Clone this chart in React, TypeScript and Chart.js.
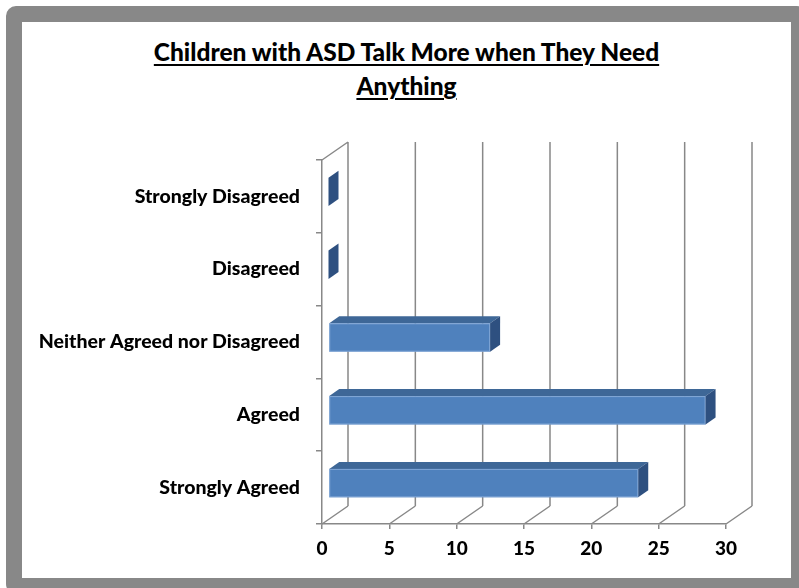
import React, { useEffect, useRef } from "react";
import { Chart, registerables } from "chart.js";

Chart.register(...registerables);

// Survey responses (number of respondents per answer)
const categories = [
  "Strongly Disagreed",
  "Disagreed",
  "Neither Agreed nor Disagreed",
  "Agreed",
  "Strongly Agreed",
];
const responses = [0, 0, 12, 28, 23];
const valueTicks = [0, 5, 10, 15, 20, 25, 30];
const titleLines = ["Children with ASD Talk More when They Need", "Anything"];

// 3D look: depth of the plot box and of each bar
const DEPTH_X = 26;
const DEPTH_Y = 18;
const BAR_DEPTH_X = 10;
const BAR_DEPTH_Y = 7;
const BAR_PLANE = 0.25; // where the bar's front face sits inside the box depth

const GRID = "#888888";
const FRONT = "#4F81BD";
const TOP = "#3E6797";
const SIDE = "#2E5080";

const FONT = "Lato, 'Open Sans', sans-serif";

const box3d = {
  id: "box3d",
  beforeDatasetsDraw(chart: any) {
    const { ctx, chartArea } = chart;
    const x = chart.scales.x;
    ctx.save();
    ctx.strokeStyle = GRID;
    ctx.lineWidth = 1.5;
    ctx.beginPath();
    // back wall grid lines and floor diagonals at each value tick
    valueTicks.forEach((v) => {
      const px = x.getPixelForValue(v);
      ctx.moveTo(px + DEPTH_X, chartArea.top - DEPTH_Y);
      ctx.lineTo(px + DEPTH_X, chartArea.bottom - DEPTH_Y);
      ctx.moveTo(px, chartArea.bottom);
      ctx.lineTo(px + DEPTH_X, chartArea.bottom - DEPTH_Y);
    });
    // top edge of the side wall
    ctx.moveTo(chartArea.left, chartArea.top);
    ctx.lineTo(chartArea.left + DEPTH_X, chartArea.top - DEPTH_Y);
    ctx.stroke();
    ctx.restore();
  },
  afterDatasetsDraw(chart: any) {
    const { ctx } = chart;
    const meta = chart.getDatasetMeta(0);
    const ox = DEPTH_X * BAR_PLANE;
    const oy = -DEPTH_Y * BAR_PLANE;
    ctx.save();
    meta.data.forEach((bar: any) => {
      const p = bar.getProps(["x", "y", "base", "height"], true);
      const x0 = p.base + ox;
      const x1 = p.x + ox;
      const yT = p.y - p.height / 2 + oy;
      const yB = p.y + p.height / 2 + oy;
      if (x1 > x0) {
        // top face
        ctx.fillStyle = TOP;
        ctx.beginPath();
        ctx.moveTo(x0, yT);
        ctx.lineTo(x0 + BAR_DEPTH_X, yT - BAR_DEPTH_Y);
        ctx.lineTo(x1 + BAR_DEPTH_X, yT - BAR_DEPTH_Y);
        ctx.lineTo(x1, yT);
        ctx.closePath();
        ctx.fill();
        // front face
        ctx.fillStyle = FRONT;
        ctx.fillRect(x0, yT, x1 - x0, yB - yT);
        ctx.strokeStyle = "rgba(140,175,220,0.8)";
        ctx.lineWidth = 1;
        ctx.strokeRect(x0 + 0.5, yT + 0.5, x1 - x0 - 1, yB - yT - 1);
      }
      // end face
      ctx.fillStyle = SIDE;
      ctx.beginPath();
      ctx.moveTo(x1, yT);
      ctx.lineTo(x1 + BAR_DEPTH_X, yT - BAR_DEPTH_Y);
      ctx.lineTo(x1 + BAR_DEPTH_X, yB - BAR_DEPTH_Y);
      ctx.lineTo(x1, yB);
      ctx.closePath();
      ctx.fill();
    });
    ctx.restore();
  },
};

export default function App() {
  const ref = useRef<HTMLCanvasElement | null>(null);

  useEffect(() => {
    if (!ref.current) return;
    const chart = new Chart(ref.current, {
      type: "bar",
      data: {
        labels: categories,
        datasets: [
          {
            data: responses,
            backgroundColor: "rgba(0,0,0,0)",
            borderWidth: 0,
            categoryPercentage: 1,
            barPercentage: 0.39,
          },
        ],
      },
      options: {
        indexAxis: "y",
        animation: false,
        responsive: false,
        maintainAspectRatio: false,
        layout: { padding: { top: 160, left: 0, right: 73, bottom: 0 } },
        plugins: {
          legend: { display: false },
          tooltip: { enabled: false },
          title: { display: false },
        },
        scales: {
          x: {
            min: 0,
            max: 30,
            afterBuildTicks: (s: any) => {
              s.ticks = valueTicks.map((v) => ({ value: v }));
            },
            afterFit: (s: any) => {
              s.height = 64;
            },
            grid: {
              drawOnChartArea: false,
              drawTicks: true,
              tickLength: 5,
              color: GRID,
              lineWidth: 1.5,
            },
            border: { display: true, color: GRID, width: 1.5 },
            ticks: {
              color: "#000",
              padding: 8,
              font: { family: FONT, size: 19, weight: "900" },
            },
          },
          y: {
            afterFit: (s: any) => {
              s.width = 322;
            },
            grid: {
              offset: true,
              drawOnChartArea: false,
              drawTicks: true,
              tickLength: 6,
              color: GRID,
              lineWidth: 1.5,
            },
            border: { display: true, color: GRID, width: 1.5 },
            ticks: {
              color: "#000",
              padding: 16,
              font: { family: FONT, size: 19.5, weight: "900" },
            },
          },
        },
      },
      plugins: [box3d],
    });
    return () => chart.destroy();
  }, []);

  return (
    <div
      style={{
        position: "fixed",
        left: 0,
        top: 0,
        width: 799,
        height: 588,
        overflow: "hidden",
        background: "#fff",
      }}
    >
      <div
        style={{
          position: "absolute",
          left: 6,
          top: 6,
          width: 801,
          height: 588,
          boxSizing: "border-box",
          border: "16px solid #888888",
          borderRadius: 10,
          background: "#fff",
        }}
      />
      <div
        style={{
          position: "absolute",
          left: 22,
          top: 35,
          width: 769,
          textAlign: "center",
          fontFamily: FONT,
          fontWeight: 900,
          fontSize: 24.5,
          lineHeight: "34px",
          color: "#000",
          textDecoration: "underline",
          textDecorationThickness: 2,
          textUnderlineOffset: 3,
        }}
      >
        {titleLines.map((line, i) => (
          <div key={i}>{line}</div>
        ))}
      </div>
      <canvas
        ref={ref}
        width={799}
        height={588}
        style={{ position: "absolute", left: 0, top: 0, width: 799, height: 588 }}
      />
    </div>
  );
}
